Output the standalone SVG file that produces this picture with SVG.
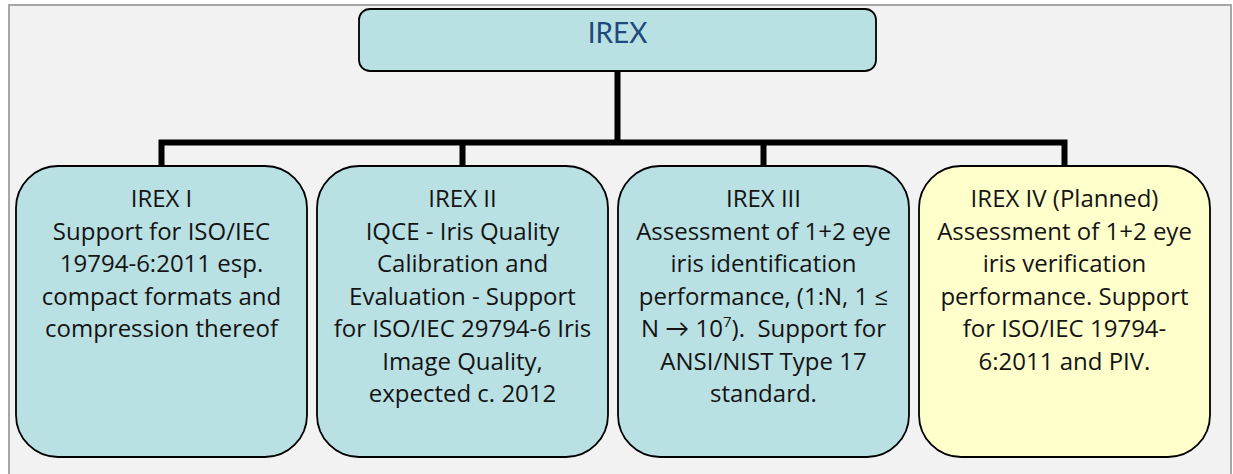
<svg xmlns="http://www.w3.org/2000/svg" width="1233" height="474" viewBox="0 0 1233 474">
<style>
.frame{fill:#f2f2f2;stroke:#a6a6a6;stroke-width:2}
.box{stroke:#000;stroke-width:1.8}
.teal{fill:#b9e0e3}
.yellow{fill:#ffffcc}
.conn{fill:none;stroke:#000;stroke-width:6;stroke-linejoin:miter;stroke-linecap:butt}
.t{font-family:"Open Sans",Lato,"Liberation Sans",sans-serif;font-size:24px;fill:#141414;text-anchor:middle}
.title{font-family:Lato,"Open Sans","Liberation Sans",sans-serif;font-size:28px;fill:#1f497d;text-anchor:middle}
</style>
<rect x="0" y="0" width="1233" height="474" fill="#ffffff"/>
<rect class="frame" x="9" y="5" width="1222" height="480"/>
<g id="connectors">
<path class="conn" d="M617.5 71 V142.5"/>
<path class="conn" d="M161.5 166 V142.5 H1064.5 V166"/>
<path class="conn" d="M462.5 142.5 V166"/>
<path class="conn" d="M763.5 142.5 V166"/>
</g>
<g id="irex">
<rect class="box teal" x="359" y="9" width="517" height="62" rx="11"/>
<text class="title" x="617.5" y="43">IREX</text>
</g>
<g id="irex1">
<rect class="box teal" x="16" y="166" width="291" height="291" rx="42"/>
<text class="t" x="161.5" y="207">IREX I</text>
<text class="t" x="161.5" y="239.5">Support for ISO/IEC</text>
<text class="t" x="161.5" y="272">19794-6:2011 esp.</text>
<text class="t" x="161.5" y="304.5">compact formats and</text>
<text class="t" x="161.5" y="337">compression thereof</text>
</g>
<g id="irex2">
<rect class="box teal" x="317" y="166" width="291" height="291" rx="42"/>
<text class="t" x="462.5" y="207">IREX II</text>
<text class="t" x="462.5" y="239.5">IQCE - Iris Quality</text>
<text class="t" x="462.5" y="272">Calibration and</text>
<text class="t" x="462.5" y="304.5">Evaluation - Support</text>
<text class="t" x="462.5" y="337">for ISO/IEC 29794-6 Iris</text>
<text class="t" x="462.5" y="369.5">Image Quality,</text>
<text class="t" x="462.5" y="402">expected c. 2012</text>
</g>
<g id="irex3">
<rect class="box teal" x="618" y="166" width="291" height="291" rx="42"/>
<text class="t" x="763.5" y="207">IREX III</text>
<text class="t" x="763.5" y="239.5">Assessment of 1+2 eye</text>
<text class="t" x="763.5" y="272">iris identification</text>
<text class="t" x="763.5" y="304.5">performance, (1:N, 1 ≤</text>
<text class="t" x="763.5" y="337" style="white-space:pre">N → 10<tspan dy="-10" font-size="15">7</tspan><tspan dy="10">).  Support for</tspan></text>
<text class="t" x="763.5" y="369.5">ANSI/NIST Type 17</text>
<text class="t" x="763.5" y="402">standard.</text>
</g>
<g id="irex4">
<rect class="box yellow" x="919" y="166" width="291" height="291" rx="42"/>
<text class="t" x="1064.5" y="207">IREX IV (Planned)</text>
<text class="t" x="1064.5" y="239.5">Assessment of 1+2 eye</text>
<text class="t" x="1064.5" y="272">iris verification</text>
<text class="t" x="1064.5" y="304.5">performance. Support</text>
<text class="t" x="1064.5" y="337">for ISO/IEC 19794-</text>
<text class="t" x="1064.5" y="369.5">6:2011 and PIV.</text>
</g>
</svg>
